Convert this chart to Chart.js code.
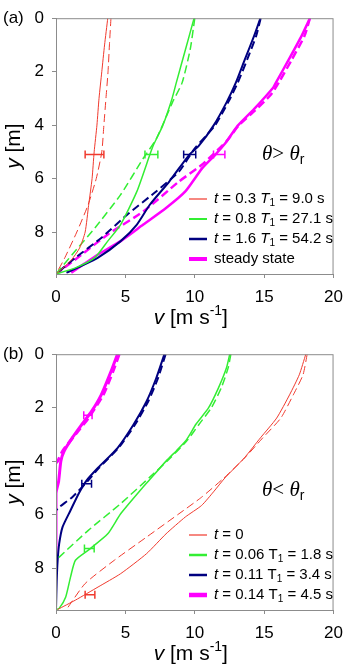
<!DOCTYPE html>
<html>
<head>
<meta charset="utf-8">
<script src="https://cdn.jsdelivr.net/npm/chart.js@4.4.1/dist/chart.umd.min.js"></script>
<style>
  body { margin: 0; background: #fff; }
  .panel { width: 352px; height: 336px; }
</style>
</head>
<body>
<div class="panel"><canvas id="chartA" width="352" height="336"></canvas></div>
<div class="panel"><canvas id="chartB" width="352" height="336"></canvas></div>
<script>
// ticks
const vTicks = [0, 5, 10, 15, 20];
const yTicks = [0, 2, 4, 6, 8];
const yMax = 9.57;

// (a) theta > theta_r : solid = measured, dashed = model
const aRedV  = [3.73, 3.5, 3.3, 3.1, 2.95, 2.75, 2.6, 2.35, 2.1, 1.7, 1.1, 0.5, 0];
const aRedY  = [0, 1, 2, 3, 4, 5, 6, 7, 8, 8.6, 9.05, 9.35, 9.57];
const aRedDV = [3.96, 3.85, 3.75, 3.6, 3.45, 3.3, 2.9, 2.3, 1.5, 0.6, 0];
const aRedDY = [0, 1, 2, 3, 4, 5, 6, 7, 8, 9, 9.57];

const aGreenV  = [9.95, 9.33, 8.67, 8.35, 7.69, 7.0, 6.76, 5.83, 4.66, 3.73, 2.8, 1.4, 0];
const aGreenY  = [0, 1.17, 2.41, 3.03, 4.02, 4.77, 5.11, 6.48, 7.72, 8.34, 8.96, 9.34, 9.57];
const aGreenDV = [10.0, 9.67, 9.09, 8.39, 7.22, 6.29, 4.66, 2.8, 1.17, 0];
const aGreenDY = [0, 1.17, 2.41, 3.15, 4.52, 5.24, 6.6, 7.85, 8.84, 9.57];

const aNavyV  = [14.73, 14.27, 13.61, 12.96, 12.29, 11.35, 10.3, 9.6, 8.16, 6.76, 5.83, 4.66, 3.03, 1.7, 0.75];
const aNavyY  = [0, 0.67, 1.54, 2.41, 3.15, 4.02, 4.77, 5.11, 6.11, 6.98, 7.72, 8.34, 8.96, 9.3, 9.52];
const aNavyDV = [14.75, 14.42, 13.78, 13.1, 12.4, 11.45, 10.0, 8.86, 7.22, 5.13, 3.26, 1.4, 0];
const aNavyDY = [0, 0.67, 1.54, 2.41, 3.15, 4.02, 4.87, 5.74, 6.48, 7.35, 8.22, 8.96, 9.57];

const aMagV  = [18.3, 17.69, 16.78, 15.85, 15.66, 14.27, 13.1, 12.17, 11.47, 10.54, 9.32, 7.93, 6.29, 4.66, 3.03, 2.0, 1.1];
const aMagY  = [0, 0.67, 1.54, 2.41, 2.59, 3.4, 4.02, 4.7, 5.11, 5.61, 6.48, 7.1, 7.72, 8.34, 8.84, 9.2, 9.52];
const aMagDV = [18.3, 17.9, 17.0, 16.05, 15.5, 14.35, 13.15, 12.3, 10.49, 8.86, 6.29, 3.73, 1.86, 0];
const aMagDY = [0, 0.67, 1.54, 2.41, 2.85, 3.45, 4.02, 4.6, 5.49, 6.11, 7.23, 8.09, 8.84, 9.57];

// error bars (a): depth, [left, right]
const aErrDepth = 5.1;
const aRedErr = [2.1, 3.45];
const aGreenErr = [6.41, 7.34];
const aNavyErr = [9.2, 10.07];
const aMagErr = [11.35, 12.17];

// (b) theta < theta_r
const bRedV  = [18.0, 17.53, 16.83, 15.9, 14.73, 13.57, 12.17, 11.35, 10.49, 9.32, 7.93, 6.53, 4.66, 3.03, 1.4, 0.12];
const bRedY  = [0, 0.77, 1.52, 2.39, 3.13, 3.88, 4.63, 5.15, 5.66, 6.09, 6.72, 7.46, 8.21, 8.71, 9.2, 9.55];
const bRedDV = [18.1, 17.8, 17.1, 16.2, 14.9, 13.6, 12.1, 10.49, 8.86, 6.53, 4.2, 2.1, 0.82];
const bRedDY = [0, 0.77, 1.52, 2.39, 3.13, 3.88, 4.63, 5.35, 5.97, 6.84, 7.71, 8.58, 9.5];

const bGreenV  = [12.52, 12.28, 11.7, 11.0, 10.07, 9.65, 9.32, 8.7, 7.93, 6.76, 6.06, 4.66, 3.73, 2.33, 1.4, 1.05, 0.7, 0.23, 0];
const bGreenY  = [0, 0.52, 1.27, 2.0, 2.63, 3.0, 3.26, 3.6, 4.0, 4.69, 5.1, 5.97, 6.72, 7.33, 7.71, 8.33, 9.08, 9.51, 9.55];
const bGreenDV = [12.6, 12.4, 11.9, 11.2, 10.3, 9.4, 8.0, 6.76, 4.66, 2.33, 0.23, 0];
const bGreenDY = [0, 0.52, 1.27, 2.0, 2.63, 3.26, 4.0, 4.6, 5.59, 6.59, 7.59, 7.7];

const bNavyV  = [7.81, 7.22, 6.53, 5.59, 4.43, 3.03, 2.21, 1.63, 1.05, 0.47, 0.23, 0.12, 0.05, 0];
const bNavyY  = [0, 0.9, 1.76, 2.63, 3.51, 4.25, 4.72, 5.22, 5.84, 6.47, 7.09, 7.71, 8.5, 9.55];
const bNavyDV = [7.9, 7.35, 6.65, 5.7, 4.5, 3.1, 2.33, 1.17, 0.23, 0];
const bNavyDY = [0, 0.9, 1.76, 2.63, 3.51, 4.25, 4.72, 5.35, 5.72, 5.85];

const bMagV  = [4.43, 3.96, 3.26, 2.56, 1.86, 1.17, 0.58, 0.35, 0.19, 0, 0];
const bMagY  = [0, 0.65, 1.52, 2.14, 2.63, 3.13, 3.63, 4.0, 4.75, 5.2, 7.75];
const bMagDV = [4.55, 4.1, 3.4, 2.33, 1.4, 0.47, 0.12, 0];
const bMagDY = [0, 0.65, 1.52, 2.39, 3.0, 3.63, 4.0, 4.07];

// error bars (b): [depth, left, right]
const bRedErr = [9.0, 2.1, 2.8];
const bGreenErr = [7.27, 2.05, 2.75];
const bNavyErr = [4.85, 1.86, 2.56];
const bMagErr = [2.28, 2.0, 2.6];

// legend text pieces
const legendA = [
  [{t: 't', it: true}, {t: ' = 0.3 '}, {t: 'T', it: true}, {t: '1', sub: true}, {t: ' = 9.0 s'}],
  [{t: 't', it: true}, {t: ' = 0.8 '}, {t: 'T', it: true}, {t: '1', sub: true}, {t: ' = 27.1 s'}],
  [{t: 't', it: true}, {t: ' = 1.6 '}, {t: 'T', it: true}, {t: '1', sub: true}, {t: ' = 54.2 s'}],
  [{t: 'steady state'}]
];
const legendB = [
  [{t: 't', it: true}, {t: ' = 0'}],
  [{t: 't', it: true}, {t: ' = 0.06 T'}, {t: '1', sub: true}, {t: ' = 1.8 s'}],
  [{t: 't', it: true}, {t: ' = 0.11 T'}, {t: '1', sub: true}, {t: ' = 3.4 s'}],
  [{t: 't', it: true}, {t: ' = 0.14 T'}, {t: '1', sub: true}, {t: ' = 4.5 s'}]
];

const RED = '#f03a2e', GREEN = '#33ee33', NAVY = '#000080', MAG = '#ff00ff';
const SANS = '"Liberation Sans", Arial, sans-serif';
const SERIF = '"Liberation Serif", "Times New Roman", serif';

function line(v, y, color, width, dashed) {
  return {
    data: v.map((x, i) => ({x: x, y: y[i]})),
    borderColor: color,
    borderWidth: width,
    borderDash: dashed ? [8, 4] : [],
    pointRadius: 0,
    showLine: true,
    fill: false,
    tension: 0.2
  };
}

function errBar(depth, range, color) {
  return {
    data: range.map(x => ({x: x, y: depth})),
    borderColor: color,
    borderWidth: 1.5,
    showLine: true,
    tension: 0,
    pointStyle: 'line',
    pointRotation: 90,
    pointRadius: 4,
    pointBorderColor: color,
    pointBorderWidth: 1.5
  };
}

function partFont(p, size, family) {
  const s = (p.sub || p.sup) ? Math.round(size * 0.68) : size;
  return (p.it ? 'italic ' : '') + s + 'px ' + (p.fam || family);
}

function richWidth(ctx, parts, size, family) {
  let w = 0;
  parts.forEach(p => { ctx.font = partFont(p, size, family); w += ctx.measureText(p.t).width; });
  return w;
}

function drawRich(ctx, parts, x, y, size, family) {
  let cx = x;
  ctx.textAlign = 'left';
  ctx.textBaseline = 'middle';
  parts.forEach(p => {
    ctx.font = partFont(p, size, family);
    const dy = p.sub ? size * 0.3 : p.sup ? -size * 0.35 : 0;
    ctx.fillText(p.t, cx, y + dy);
    cx += ctx.measureText(p.t).width;
  });
}

const yTitle = [{t: 'y', it: true}, {t: ' [m]'}];
const xTitle = [{t: 'v', it: true}, {t: ' [m s'}, {t: '-1', sup: true}, {t: ']'}];

const decor = {
  id: 'decor',
  afterDraw(chart, args, opts) {
    const ctx = chart.ctx;
    const a = chart.chartArea;
    ctx.save();
    // frame
    ctx.strokeStyle = '#8c8c8c';
    ctx.lineWidth = 1;
    ctx.strokeRect(a.left + 0.5, a.top + 0.5, a.right - a.left - 1, a.bottom - a.top);
    ctx.fillStyle = '#000';
    // panel label
    ctx.font = '17px ' + SANS;
    ctx.textAlign = 'left';
    ctx.textBaseline = 'middle';
    ctx.fillText(opts.label, 3, a.top);
    // axis titles
    const xw = richWidth(ctx, xTitle, 21, SANS);
    drawRich(ctx, xTitle, (a.left + a.right) / 2 - xw / 2 - 4, 318, 21, SANS);
    ctx.save();
    ctx.translate(14, (a.top + a.bottom) / 2);
    ctx.rotate(-Math.PI / 2);
    const yw = richWidth(ctx, yTitle, 21, SANS);
    drawRich(ctx, yTitle, -yw / 2, 0, 21, SANS);
    ctx.restore();
    // theta label
    drawRich(ctx, opts.theta, 262, 154, 21, SERIF);
    // legend
    opts.legend.forEach((parts, i) => {
      const ds = chart.data.datasets[opts.legendIdx[i]];
      const ly = 199 + i * 20;
      ctx.strokeStyle = ds.borderColor;
      ctx.lineWidth = opts.legendWidths[i];
      ctx.beginPath();
      ctx.moveTo(189, ly);
      ctx.lineTo(207, ly);
      ctx.stroke();
      ctx.fillStyle = '#000';
      drawRich(ctx, parts, 214, ly, 15, SANS);
    });
    ctx.restore();
  }
};

function scales() {
  const gray = '#8c8c8c';
  return {
    x: {
      type: 'linear', min: 0, max: 20, position: 'bottom',
      afterBuildTicks: s => { s.ticks = vTicks.map(v => ({value: v})); },
      afterFit: s => { s.height = 62; },
      ticks: {color: '#000', font: {size: 17, family: SANS}, padding: 9, maxRotation: 0},
      grid: {drawOnChartArea: false, tickLength: 4, color: gray},
      border: {color: gray}
    },
    y: {
      type: 'linear', min: 0, max: yMax, reverse: true,
      afterBuildTicks: s => { s.ticks = yTicks.map(v => ({value: v})); },
      afterFit: s => { s.width = 56; },
      ticks: {color: '#000', font: {size: 17, family: SANS}, padding: 8},
      grid: {drawOnChartArea: false, tickLength: 4, color: gray},
      border: {color: gray}
    }
  };
}

function makeChart(id, datasets, decorOpts) {
  return new Chart(document.getElementById(id), {
    type: 'scatter',
    data: {datasets: datasets},
    options: {
      responsive: false,
      animation: false,
      layout: {padding: {top: 16, right: 10, left: 0, bottom: 0}},
      plugins: {legend: {display: false}, tooltip: {enabled: false}, decor: decorOpts},
      scales: scales()
    },
    plugins: [decor]
  });
}

makeChart('chartA', [
  line(aRedV, aRedY, RED, 1, false),
  line(aRedDV, aRedDY, RED, 1, true),
  line(aGreenV, aGreenY, GREEN, 1.5, false),
  line(aGreenDV, aGreenDY, GREEN, 1.5, true),
  line(aNavyV, aNavyY, NAVY, 2, false),
  line(aNavyDV, aNavyDY, NAVY, 2, true),
  line(aMagV, aMagY, MAG, 2.5, false),
  line(aMagDV, aMagDY, MAG, 2.5, true),
  errBar(aErrDepth, aRedErr, RED),
  errBar(aErrDepth, aGreenErr, GREEN),
  errBar(aErrDepth, aNavyErr, NAVY),
  errBar(aErrDepth, aMagErr, MAG)
], {
  label: '(a)',
  theta: [{t: 'θ', it: true}, {t: '> '}, {t: 'θ', it: true}, {t: 'r', sub: true, fam: SANS}],
  legend: legendA,
  legendIdx: [0, 2, 4, 6],
  legendWidths: [1.2, 2, 2.5, 4]
});

makeChart('chartB', [
  line(bRedV, bRedY, RED, 1, false),
  line(bRedDV, bRedDY, RED, 1, true),
  line(bGreenV, bGreenY, GREEN, 1.5, false),
  line(bGreenDV, bGreenDY, GREEN, 1.5, true),
  line(bNavyV, bNavyY, NAVY, 2, false),
  line(bNavyDV, bNavyDY, NAVY, 2, true),
  line(bMagV, bMagY, MAG, 3, false),
  line(bMagDV, bMagDY, MAG, 3, true),
  errBar(bRedErr[0], bRedErr.slice(1), RED),
  errBar(bGreenErr[0], bGreenErr.slice(1), GREEN),
  errBar(bNavyErr[0], bNavyErr.slice(1), NAVY),
  errBar(bMagErr[0], bMagErr.slice(1), MAG)
], {
  label: '(b)',
  theta: [{t: 'θ', it: true}, {t: '< '}, {t: 'θ', it: true}, {t: 'r', sub: true, fam: SANS}],
  legend: legendB,
  legendIdx: [0, 2, 4, 6],
  legendWidths: [1.2, 2.5, 2.5, 4.5]
});
</script>
</body>
</html>
